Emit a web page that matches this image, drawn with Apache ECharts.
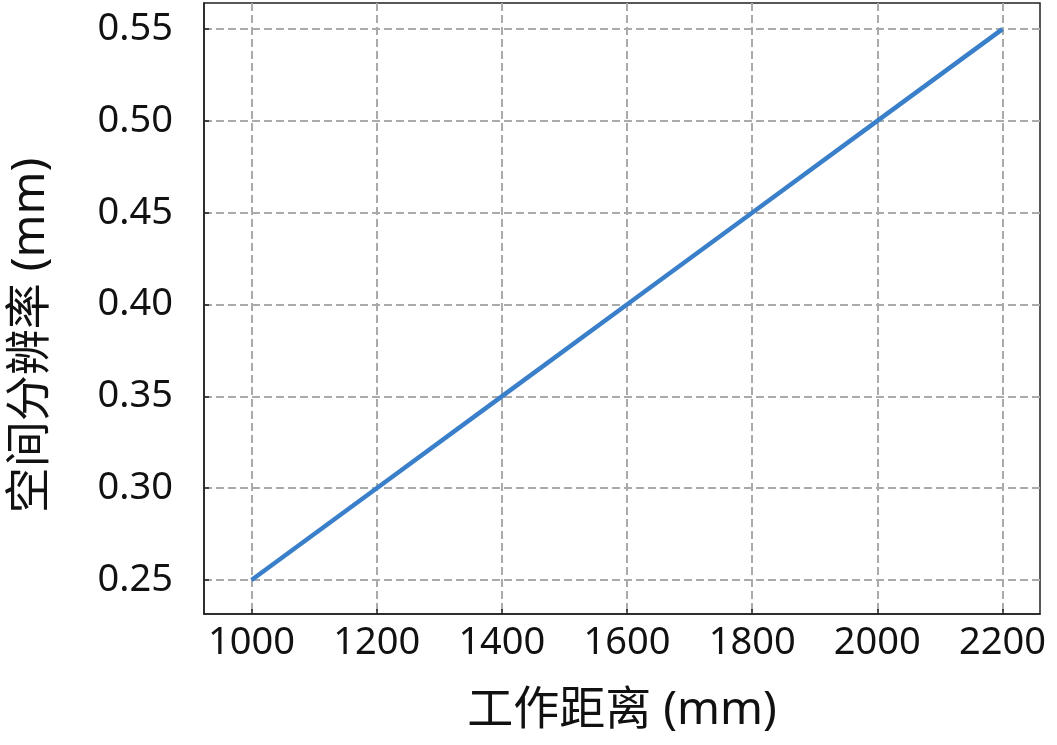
<!DOCTYPE html>
<html>
<head>
<meta charset="utf-8">
<script src="https://cdn.jsdelivr.net/npm/echarts@6/dist/echarts.min.js"></script>
<style>html,body{margin:0;padding:0;background:#fff;}#c{width:1057px;height:745px;}</style>
</head>
<body>
<div id="c"></div>
<script>
const distances = [1000, 1200, 1400, 1600, 1800, 2000, 2200];
const resolution = [0.25, 0.30, 0.35, 0.40, 0.45, 0.50, 0.55];
const xTicks = [1000, 1200, 1400, 1600, 1800, 2000, 2200];
const yTicks = [0.25, 0.30, 0.35, 0.40, 0.45, 0.50, 0.55];
const xName = '工作距离 (mm)';
const yName = '空间分辨率 (mm)';

const FONT = "'Noto Sans', 'Noto Sans CJK SC', sans-serif";
const chart = echarts.init(document.getElementById('c'), null, {renderer: 'canvas'});
const splitStyle = {show: true, lineStyle: {color: '#aaaaaa', width: 2, type: [8, 4]}};
chart.setOption({
  animation: false,
  grid: {left: 204, top: 3, right: 17, bottom: 131, containLabel: false, outerBoundsMode: 'none',
    show: true, borderColor: '#222', borderWidth: 1.5},
  xAxis: {
    type: 'value', min: 924, max: 2260,
    name: xName, nameLocation: 'middle', nameGap: 74,
    nameTextStyle: {fontFamily: FONT, fontSize: 46, color: '#111'},
    axisLine: {show: true, onZero: false, lineStyle: {color: '#222', width: 1.5}},
    axisTick: {show: true, inside: true, length: 5, customValues: xTicks, lineStyle: {color: '#222', width: 1.5}},
    axisLabel: {customValues: xTicks, fontFamily: FONT, fontSize: 38, color: '#111', margin: 10,
      formatter: v => String(v)},
    splitLine: splitStyle
  },
  yAxis: {
    type: 'value', min: 0.2315, max: 0.5642,
    name: yName, nameLocation: 'middle', nameGap: 150, nameRotate: 90,
    nameTextStyle: {fontFamily: FONT, fontSize: 46, color: '#111', padding: [0, 54, 0, 0]},
    axisLine: {show: true, onZero: false, lineStyle: {color: '#222', width: 1.5}},
    axisTick: {show: true, inside: true, length: 5, customValues: yTicks, lineStyle: {color: '#222', width: 1.5}},
    axisLabel: {customValues: yTicks, fontFamily: FONT, fontSize: 38, color: '#111', margin: 31,
      formatter: v => v.toFixed(2)},
    splitLine: splitStyle
  },
  series: [{
    type: 'line',
    data: distances.map((d, i) => [d, resolution[i]]),
    showSymbol: false,
    lineStyle: {color: '#3a7fc9', width: 4.5},
    itemStyle: {color: '#3a7fc9'}
  }]
});
</script>
</body>
</html>
